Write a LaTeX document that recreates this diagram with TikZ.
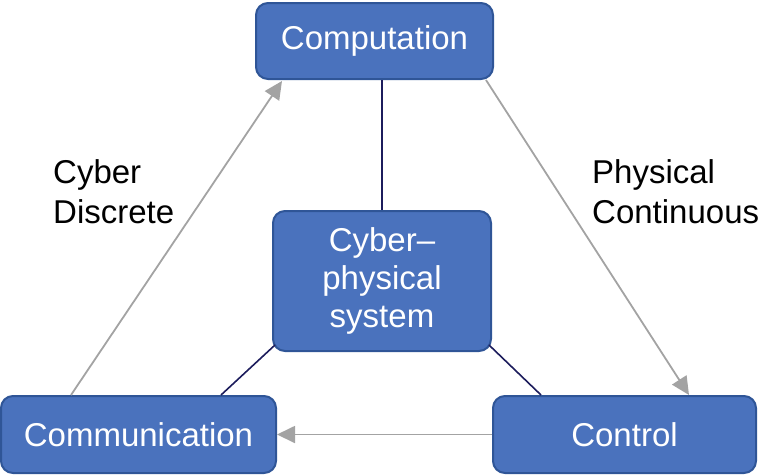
\documentclass[tikz,border=0pt]{standalone}
\usepackage{fontspec}
\setmainfont{Liberation Sans}
\usepackage{tikz}
\usetikzlibrary{arrows.meta}
\definecolor{boxblue}{HTML}{4A72BD}
\definecolor{boxedge}{HTML}{2F5597}
\definecolor{navyline}{HTML}{1C1C5C}
\definecolor{arrowgray}{HTML}{A3A3A3}
\tikzstyle{bluebox} = [draw=boxedge, fill=boxblue, line width=2pt,
    rectangle, rounded corners=12pt, text=white, inner sep=0pt,
    font=\fontsize{33}{38}\selectfont, align=center]
\tikzstyle{sidelabel} = [anchor=west, inner sep=0pt, align=left,
    font=\fontsize{33}{40}\selectfont]
\tikzstyle{link} = [draw=navyline, line width=1.6pt]
\tikzstyle{flow} = [draw=arrowgray, line width=1.8pt,
    -{Triangle[length=18pt,width=17pt]}, arrowgray]

\begin{document}
\begin{tikzpicture}[x=1pt,y=-1pt]
\useasboundingbox (0,0) rectangle (763,475);
\node [bluebox, minimum width=237pt, minimum height=76pt] (comp) at (374.5,41) {Computation};
\node [bluebox, minimum width=218pt, minimum height=140pt] (cps) at (382,281) {Cyber--\\physical\\system};
\node [bluebox, minimum width=275pt, minimum height=77pt] (comm) at (138.5,434.5) {Communication};
\node [bluebox, minimum width=263pt, minimum height=77pt] (ctrl) at (624.5,434.5) {Control};
\node [sidelabel] (cyber) at (53,192) {Cyber\\Discrete};
\node [sidelabel] (phys) at (592,192) {Physical\\Continuous};
% centre links
\draw [link] (comp.south -| cps.north) -- (cps.north);
\draw [link] ([xshift=3pt,yshift=7pt]cps.south west) -- ([xshift=221pt]comm.north west);
\draw [link] ([xshift=-3pt,yshift=7pt]cps.south east) -- ([xshift=49pt]ctrl.north west);
% outer cycle
\draw [flow] ([xshift=71pt]comm.north west) -- ([xshift=27pt,yshift=-1pt]comp.south west);
\draw [flow] ([xshift=-8pt]comp.south east) -- ([xshift=197pt]ctrl.north west);
\draw [flow] (ctrl.west) -- (comm.east);
\end{tikzpicture}
\end{document}
